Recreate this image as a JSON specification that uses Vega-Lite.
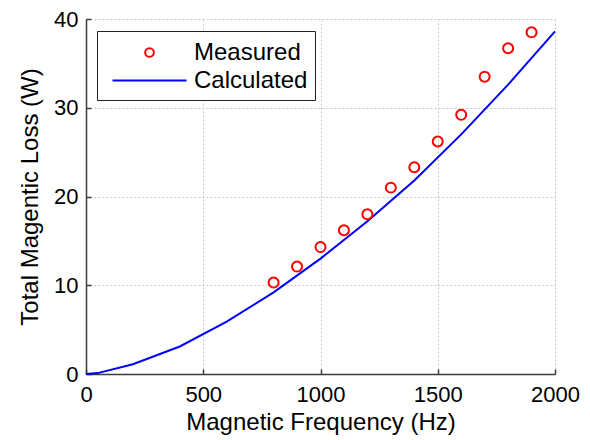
{
  "$schema": "https://vega.github.io/schema/vega-lite/v6.json",
  "autosize": {"type": "none"},
  "padding": {"left": 86, "top": 19, "right": 35, "bottom": 66},
  "width": 469,
  "height": 355,
  "background": "white",
  "datasets": {
    "measured": [
      {"freq": 800, "loss": 10.3, "series": "Measured"},
      {"freq": 900, "loss": 12.1, "series": "Measured"},
      {"freq": 1000, "loss": 14.3, "series": "Measured"},
      {"freq": 1100, "loss": 16.2, "series": "Measured"},
      {"freq": 1200, "loss": 18.0, "series": "Measured"},
      {"freq": 1300, "loss": 21.0, "series": "Measured"},
      {"freq": 1400, "loss": 23.3, "series": "Measured"},
      {"freq": 1500, "loss": 26.2, "series": "Measured"},
      {"freq": 1600, "loss": 29.2, "series": "Measured"},
      {"freq": 1700, "loss": 33.5, "series": "Measured"},
      {"freq": 1800, "loss": 36.7, "series": "Measured"},
      {"freq": 1900, "loss": 38.5, "series": "Measured"}
    ],
    "calculated": [
      {"freq": 0, "loss": 0, "series": "Calculated"},
      {"freq": 50, "loss": 0.1, "series": "Calculated"},
      {"freq": 200, "loss": 1.1, "series": "Calculated"},
      {"freq": 400, "loss": 3.1, "series": "Calculated"},
      {"freq": 600, "loss": 5.9, "series": "Calculated"},
      {"freq": 800, "loss": 9.2, "series": "Calculated"},
      {"freq": 1000, "loss": 13.0, "series": "Calculated"},
      {"freq": 1200, "loss": 17.2, "series": "Calculated"},
      {"freq": 1400, "loss": 21.8, "series": "Calculated"},
      {"freq": 1600, "loss": 27.0, "series": "Calculated"},
      {"freq": 1800, "loss": 32.6, "series": "Calculated"},
      {"freq": 2000, "loss": 38.6, "series": "Calculated"}
    ]
  },
  "config": {
    "view": {"stroke": null},
    "font": "Liberation Sans",
    "axis": {
      "labelFont": "Liberation Sans",
      "labelFontSize": 22,
      "labelColor": "#000000",
      "labelFlush": false,
      "titleFont": "Liberation Sans",
      "titleFontSize": 24,
      "titleFontWeight": "normal",
      "titleColor": "#000000",
      "domainColor": "#3c3c3c",
      "domainWidth": 1.5,
      "tickColor": "#3c3c3c",
      "tickWidth": 1.5,
      "tickSize": -5,
      "gridColor": "#c8c8c8",
      "gridDash": [2, 2],
      "gridWidth": 1
    },
    "legend": {
      "symbolSize": 729,
      "symbolStrokeWidth": 2
    }
  },
  "layer": [
    {
      "data": {"name": "calculated"},
      "mark": {"type": "line", "strokeWidth": 2},
      "encoding": {
        "x": {
          "field": "freq", "type": "quantitative",
          "scale": {"domain": [0, 2000], "nice": false},
          "axis": {"values": [0, 500, 1000, 1500, 2000], "format": "d", "title": "Magnetic Frequency (Hz)", "labelPadding": 15, "titleY": 55.5, "titleBaseline": "alphabetic"}
        },
        "y": {
          "field": "loss", "type": "quantitative",
          "scale": {"domain": [0, 40], "nice": false},
          "axis": {"values": [0, 10, 20, 30, 40], "format": "d", "title": "Total Magentic Loss (W)", "labelPadding": 13, "titleX": -49, "titleY": 177.5, "titleAngle": -90, "titleBaseline": "alphabetic", "titleAlign": "center"}
        },
        "color": {
          "field": "series", "type": "nominal",
          "scale": {"domain": ["Measured", "Calculated"], "range": ["#ff0000", "#0000ff"]},
          "legend": {
            "title": null,
            "orient": "none",
            "legendX": 11,
            "legendY": 12,
            "strokeColor": "#222222",
            "fillColor": "white",
            "padding": 7,
            "symbolOffset": 31,
            "labelOffset": 30,
            "labelFont": "Liberation Sans",
            "labelFontSize": 24,
            "labelColor": "#000000",
            "rowPadding": 1,
            "symbolStrokeWidth": 2,
            "encode": {"symbols": {"update": {"fill": {"value": "transparent"}, "strokeWidth": {"value": 2}, "size": {"value": 729}, "opacity": {"value": 1}}}}
          }
        }
      }
    },
    {
      "data": {"name": "measured"},
      "mark": {"type": "point", "filled": false, "strokeWidth": 2, "size": 964, "opacity": 1},
      "encoding": {
        "x": {"field": "freq", "type": "quantitative"},
        "y": {"field": "loss", "type": "quantitative"},
        "color": {"field": "series", "type": "nominal"},
        "shape": {
          "field": "series", "type": "nominal",
          "scale": {"domain": ["Measured", "Calculated"], "range": ["M-0.322,0a0.322,0.322 0 1,0 0.644,0a0.322,0.322 0 1,0 -0.644,0Z", "M-2.74,0H2.74"]},
          "legend": {"title": null}
        }
      }
    }
  ]
}
